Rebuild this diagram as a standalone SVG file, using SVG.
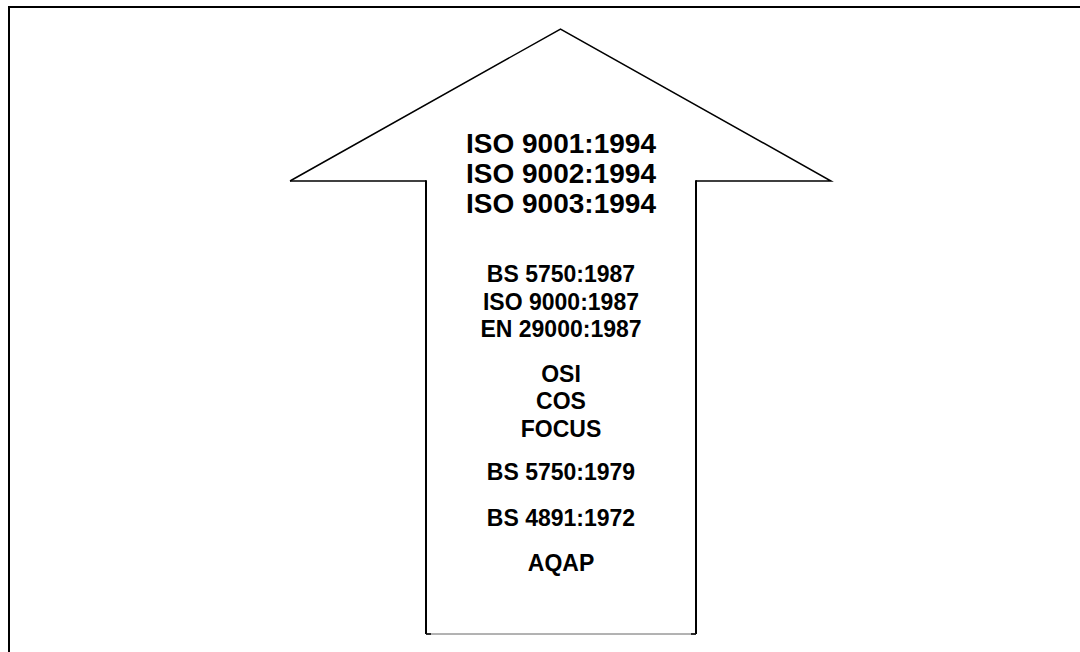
<svg xmlns="http://www.w3.org/2000/svg" width="1080" height="652" viewBox="0 0 1080 652">
<style>
.big{font-family:"Liberation Sans",Arial,sans-serif;font-weight:bold;font-size:28px;fill:#000;text-anchor:middle}
.sm{font-family:"Liberation Sans",Arial,sans-serif;font-weight:bold;font-size:23px;fill:#000;text-anchor:middle}
</style>
<rect x="0" y="0" width="1080" height="652" fill="#fff"/>
<g id="frame"><path d="M9,660 V7 H1090" fill="none" stroke="#000" stroke-width="2"/></g>
<g id="arrow">
<path d="M290,181 L560.5,29 L831,181 H696" fill="none" stroke="#000" stroke-width="1.5"/>
<path d="M290,181 H426" fill="none" stroke="#000" stroke-width="1.5"/>
<path d="M426,180.3 V634 M696,180.3 V634" fill="none" stroke="#000" stroke-width="2"/>
<path d="M426,634 H696" fill="none" stroke="#666" stroke-width="1"/>
<path d="M426,634 h5 M696,634 h-5" stroke="#000" stroke-width="1.5"/>
</g>
<g id="labels">
<text class="big" x="561" y="153">ISO 9001:1994</text>
<text class="big" x="561" y="183">ISO 9002:1994</text>
<text class="big" x="561" y="213">ISO 9003:1994</text>
<text class="sm" x="561" y="282">BS 5750:1987</text>
<text class="sm" x="561" y="310">ISO 9000:1987</text>
<text class="sm" x="561" y="337">EN 29000:1987</text>
<text class="sm" x="561" y="382">OSI</text>
<text class="sm" x="561" y="409">COS</text>
<text class="sm" x="561" y="437">FOCUS</text>
<text class="sm" x="561" y="480">BS 5750:1979</text>
<text class="sm" x="561" y="526">BS 4891:1972</text>
<text class="sm" x="561" y="571">AQAP</text>
</g>
</svg>
